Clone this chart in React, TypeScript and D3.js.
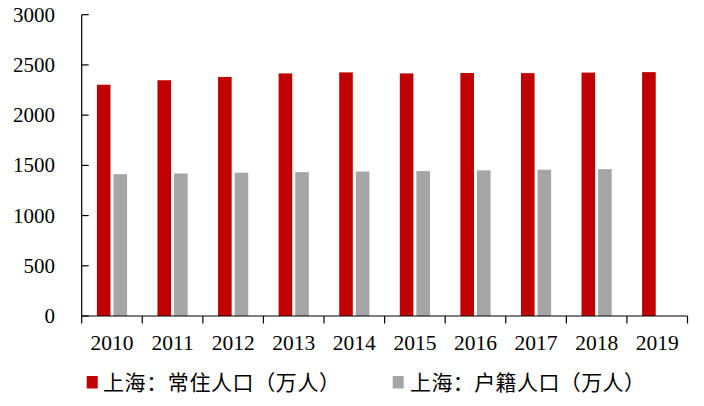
import React from "react";
import * as d3 from "d3";

const years = ["2010", "2011", "2012", "2013", "2014", "2015", "2016", "2017", "2018", "2019"];
const resident = [2302.7, 2347.5, 2380.4, 2415.2, 2425.7, 2415.3, 2419.7, 2418.3, 2423.8, 2428.1];
const registered: (number | null)[] = [1412.3, 1419.4, 1426.9, 1432.3, 1438.7, 1443.0, 1450.0, 1456.4, 1462.4, null];
const yTicks = [0, 500, 1000, 1500, 2000, 2500, 3000];
const seriesNames = ["上海：常住人口（万人）", "上海：户籍人口（万人）"];
const colors = ["#C00000", "#A5A5A5"];

const W = 704;
const H = 406;
const left = 81.7;
const right = 687.5;
const top = 14.7;
const bottom = 316;

export default function App() {
  const x = d3.scaleBand<string>().domain(years).range([left, right]).paddingInner(0).paddingOuter(0);
  const y = d3.scaleLinear().domain([0, 3000]).range([bottom, top]);
  const bw = 13.6;
  const gap = 3;
  const groupW = bw * 2 + gap;
  const offset = (x.bandwidth() - groupW) / 2;
  const numStyle = { fontFamily: "Liberation Serif, DejaVu Serif, serif" };
  const cjkStyle = { fontFamily: "Liberation Serif, Noto Sans CJK SC, serif" };
  return (
    <svg width={W} height={H} style={{ position: "absolute", left: 0, top: 0, background: "#fff" }}>
      <rect width={W} height={H} fill="#fff" />
      {years.map((yr, i) => (
        <g key={yr}>
          <rect
            x={(x(yr) as number) + offset}
            y={y(resident[i])}
            width={bw}
            height={bottom - y(resident[i])}
            fill={colors[0]}
          />
          {registered[i] != null && (
            <rect
              x={(x(yr) as number) + offset + bw + gap}
              y={y(registered[i] as number)}
              width={bw}
              height={bottom - y(registered[i] as number)}
              fill={colors[1]}
            />
          )}
        </g>
      ))}
      <line x1={left} x2={left} y1={top} y2={bottom} stroke="#000" strokeWidth={1.2} />
      {yTicks.map((t) => (
        <g key={t}>
          <line x1={left} x2={left + 7} y1={y(t)} y2={y(t)} stroke="#000" strokeWidth={1.2} />
          <text x={55} y={y(t) + 7} textAnchor="end" style={numStyle} fontSize={21} fill="#000">
            {t}
          </text>
        </g>
      ))}
      <line x1={left} x2={right} y1={bottom} y2={bottom} stroke="#000" strokeWidth={1.2} />
      {[...years.map((yr) => x(yr) as number), right].map((px, i) => (
        <line key={i} x1={px} x2={px} y1={bottom} y2={bottom + 7.5} stroke="#000" strokeWidth={1.2} />
      ))}
      {years.map((yr) => (
        <text
          key={yr}
          x={(x(yr) as number) + x.bandwidth() / 2}
          y={350}
          textAnchor="middle"
          style={numStyle}
          fontSize={21.5}
          fill="#000"
        >
          {yr}
        </text>
      ))}
      <rect x={86.7} y={376} width={11} height={12.5} fill={colors[0]} />
      <text x={103} y={389.5} style={cjkStyle} fontSize={21} fill="#000" textLength={237} lengthAdjust="spacing">
        {seriesNames[0]}
      </text>
      <rect x={392.7} y={376} width={11} height={12.5} fill={colors[1]} />
      <text x={410} y={389.5} style={cjkStyle} fontSize={21} fill="#000" textLength={235} lengthAdjust="spacing">
        {seriesNames[1]}
      </text>
    </svg>
  );
}
